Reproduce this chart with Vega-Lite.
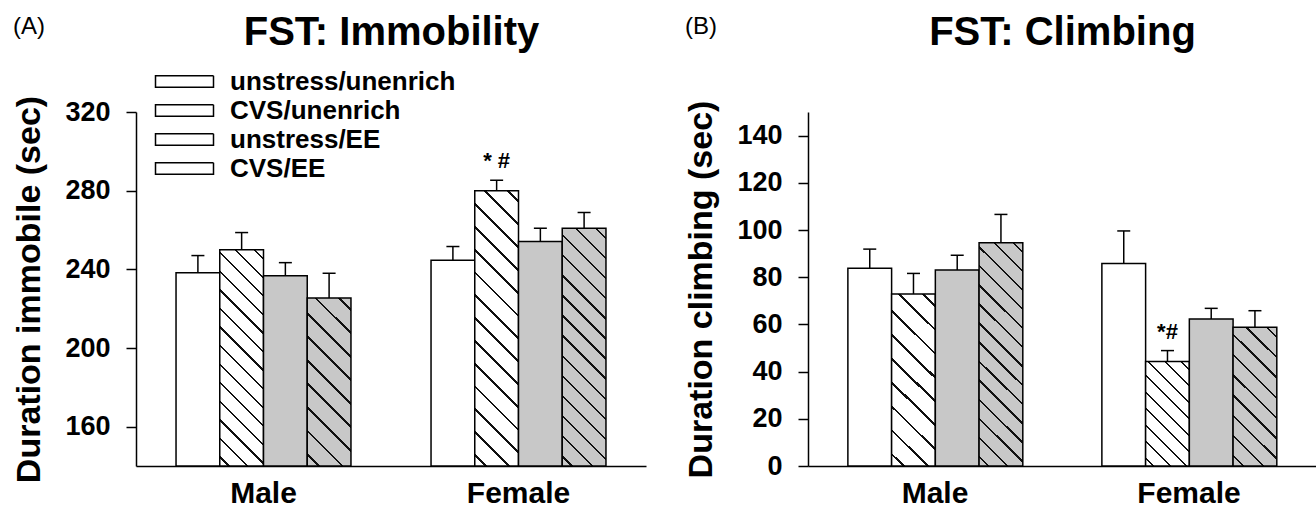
{
 "$schema": "https://vega.github.io/schema/vega-lite/v6.json",
 "padding": {"left": 12, "top": 12, "right": 0, "bottom": 0},
 "config": {"font": "Liberation Sans", "view": {"stroke": null}, "axis": {"domainColor": "#000", "tickColor": "#000", "labelColor": "#000", "titleColor": "#000", "grid": false}, "title": {"color": "#000"}},
 "datasets": {"fst": [
  {"panel":"A","sex":"Male","group":"unstress/unenrich","mean":238.3,"upper":247,"sig":""},
  {"panel":"A","sex":"Male","group":"CVS/unenrich","mean":249.9,"upper":258.7,"sig":""},
  {"panel":"A","sex":"Male","group":"unstress/EE","mean":236.7,"upper":243.4,"sig":""},
  {"panel":"A","sex":"Male","group":"CVS/EE","mean":225.4,"upper":238,"sig":""},
  {"panel":"A","sex":"Female","group":"unstress/unenrich","mean":244.6,"upper":251.6,"sig":""},
  {"panel":"A","sex":"Female","group":"CVS/unenrich","mean":280,"upper":285.3,"sig":"* #"},
  {"panel":"A","sex":"Female","group":"unstress/EE","mean":254.1,"upper":260.9,"sig":""},
  {"panel":"A","sex":"Female","group":"CVS/EE","mean":260.9,"upper":268.9,"sig":""},
  {"panel":"B","sex":"Male","group":"unstress/unenrich","mean":83.8,"upper":91.9,"sig":""},
  {"panel":"B","sex":"Male","group":"CVS/unenrich","mean":72.9,"upper":81.6,"sig":""},
  {"panel":"B","sex":"Male","group":"unstress/EE","mean":83.1,"upper":89.3,"sig":""},
  {"panel":"B","sex":"Male","group":"CVS/EE","mean":94.6,"upper":106.6,"sig":""},
  {"panel":"B","sex":"Female","group":"unstress/unenrich","mean":85.8,"upper":99.6,"sig":""},
  {"panel":"B","sex":"Female","group":"CVS/unenrich","mean":44.3,"upper":48.9,"sig":"*#"},
  {"panel":"B","sex":"Female","group":"unstress/EE","mean":62.3,"upper":66.8,"sig":""},
  {"panel":"B","sex":"Female","group":"CVS/EE","mean":58.8,"upper":65.8,"sig":""}
 ]},
 "spacing": 38,
 "resolve": {"scale": {"strokeDash": "independent"}},
 "hconcat": [
  {
   "width": 510, "height": 354,
   "title": {"text": "(A)", "anchor": "start", "frame": "bounds", "fontSize": 24, "fontWeight": "normal", "offset": -27},
   "data": {"name": "fst"},
   "transform": [{"filter": "datum.panel === 'A'"}],
   "resolve": {"axis": {"x": "independent"}},
   "layer": [
    {
     "mark": {"type": "bar", "stroke": "#000", "strokeWidth": 1.5, "opacity": 0},
     "encoding": {
      "x": {"field": "sex", "type": "nominal", "sort": ["Male", "Female"], "axis": null},
      "xOffset": {"field": "group", "type": "nominal", "sort": ["unstress/unenrich", "CVS/unenrich", "unstress/EE", "CVS/EE"]},
      "y": {"field": "mean", "type": "quantitative", "title": "Duration immobile (sec)"},
      "y2": {"datum": 140},
      "fill": {"field": "group", "type": "nominal", "scale": null},
      "strokeDash": {
       "field": "group", "type": "nominal",
       "scale": {"domain": ["unstress/unenrich", "CVS/unenrich", "unstress/EE", "CVS/EE"], "range": [[1, 0], [1, 0], [1, 0], [1, 0]]},
       "legend": {
        "orient": "none", "legendX": 33, "legendY": -46, "title": null, "direction": "vertical",
        "symbolType": "M-2,-0.4H2V0.4H-2Z", "symbolSize": 841, "symbolStrokeWidth": 1.5, "symbolOpacity": 1, "symbolFillColor": "#ffffff",
        "labelFontSize": 26, "labelFontWeight": "bold", "labelColor": "#000", "labelOffset": 30, "rowPadding": 0, "labelLimit": 400,
        "encode": {"symbols": {"update": {
         "fill": [
          {"test": "datum.value === 'CVS/unenrich'", "value": {"gradient": "linear", "x1": 0, "y1": 1, "x2": 1.154, "y2": 0.769, "stops": [{"offset":0,"color":"#fff"},{"offset":0.11,"color":"#fff"},{"offset":0.11,"color":"#111"},{"offset":0.14,"color":"#111"},{"offset":0.14,"color":"#fff"},{"offset":0.36,"color":"#fff"},{"offset":0.36,"color":"#111"},{"offset":0.39,"color":"#111"},{"offset":0.39,"color":"#fff"},{"offset":0.61,"color":"#fff"},{"offset":0.61,"color":"#111"},{"offset":0.64,"color":"#111"},{"offset":0.64,"color":"#fff"},{"offset":0.86,"color":"#fff"},{"offset":0.86,"color":"#111"},{"offset":0.89,"color":"#111"},{"offset":0.89,"color":"#fff"},{"offset":1,"color":"#fff"}]}},
          {"test": "datum.value === 'CVS/EE'", "value": {"gradient": "linear", "x1": 0, "y1": 1, "x2": 1.154, "y2": 0.769, "stops": [{"offset":0,"color":"#c8c8c8"},{"offset":0.11,"color":"#c8c8c8"},{"offset":0.11,"color":"#111"},{"offset":0.14,"color":"#111"},{"offset":0.14,"color":"#c8c8c8"},{"offset":0.36,"color":"#c8c8c8"},{"offset":0.36,"color":"#111"},{"offset":0.39,"color":"#111"},{"offset":0.39,"color":"#c8c8c8"},{"offset":0.61,"color":"#c8c8c8"},{"offset":0.61,"color":"#111"},{"offset":0.64,"color":"#111"},{"offset":0.64,"color":"#c8c8c8"},{"offset":0.86,"color":"#c8c8c8"},{"offset":0.86,"color":"#111"},{"offset":0.89,"color":"#111"},{"offset":0.89,"color":"#c8c8c8"},{"offset":1,"color":"#c8c8c8"}]}},
          {"test": "datum.value === 'unstress/EE'", "value": "#c8c8c8"},
          {"value": "#ffffff"}
         ],
         "stroke": {"value": "#000"},
         "strokeWidth": {"value": 1.5},
         "opacity": {"value": 1}
        }}}
       }
      }
     }
    },
    {
     "mark": {"type": "bar", "stroke": "#000", "strokeWidth": 1.5},
     "encoding": {
      "x": {"field": "sex", "type": "nominal", "sort": ["Male", "Female"], "scale": {"domain": ["Male", "Female"], "paddingInner": 0.314, "paddingOuter": 0.157}, "axis": {"orient": "bottom", "title": null, "ticks": false, "labelAngle": 0, "labelFontSize": 30, "labelFontWeight": "bold", "labelPadding": 12, "domainWidth": 1.5}},
      "xOffset": {"field": "group", "type": "nominal", "sort": ["unstress/unenrich", "CVS/unenrich", "unstress/EE", "CVS/EE"], "scale": {"domain": ["unstress/unenrich", "CVS/unenrich", "unstress/EE", "CVS/EE"], "paddingInner": 0, "paddingOuter": 0}},
      "y": {"field": "mean", "type": "quantitative", "title": "Duration immobile (sec)", "scale": {"domain": [140, 320], "zero": false, "nice": false}, "axis": {"values": [160, 200, 240, 280, 320], "titleFontSize": 34, "titleFontWeight": "bold", "titlePadding": 18, "labelFontSize": 27, "labelFontWeight": "bold", "labelPadding": 16, "tickSize": 10, "tickWidth": 1.5, "domainWidth": 1.5}},
      "y2": {"datum": 140},
      "fill": {
       "condition": [
        {"test": "datum.sex === 'Male' && datum.group === 'CVS/unenrich'", "value": {"gradient": "linear", "x1": 0, "y1": 1, "x2": 0.234, "y2": -0.155, "stops": [{"offset":0,"color":"#fff"},{"offset":0.031,"color":"#fff"},{"offset":0.031,"color":"#111"},{"offset":0.04,"color":"#111"},{"offset":0.04,"color":"#fff"},{"offset":0.103,"color":"#fff"},{"offset":0.103,"color":"#111"},{"offset":0.111,"color":"#111"},{"offset":0.111,"color":"#fff"},{"offset":0.174,"color":"#fff"},{"offset":0.174,"color":"#111"},{"offset":0.183,"color":"#111"},{"offset":0.183,"color":"#fff"},{"offset":0.246,"color":"#fff"},{"offset":0.246,"color":"#111"},{"offset":0.254,"color":"#111"},{"offset":0.254,"color":"#fff"},{"offset":0.317,"color":"#fff"},{"offset":0.317,"color":"#111"},{"offset":0.326,"color":"#111"},{"offset":0.326,"color":"#fff"},{"offset":0.389,"color":"#fff"},{"offset":0.389,"color":"#111"},{"offset":0.397,"color":"#111"},{"offset":0.397,"color":"#fff"},{"offset":0.46,"color":"#fff"},{"offset":0.46,"color":"#111"},{"offset":0.469,"color":"#111"},{"offset":0.469,"color":"#fff"},{"offset":0.531,"color":"#fff"},{"offset":0.531,"color":"#111"},{"offset":0.54,"color":"#111"},{"offset":0.54,"color":"#fff"},{"offset":0.603,"color":"#fff"},{"offset":0.603,"color":"#111"},{"offset":0.611,"color":"#111"},{"offset":0.611,"color":"#fff"},{"offset":0.674,"color":"#fff"},{"offset":0.674,"color":"#111"},{"offset":0.683,"color":"#111"},{"offset":0.683,"color":"#fff"},{"offset":0.746,"color":"#fff"},{"offset":0.746,"color":"#111"},{"offset":0.754,"color":"#111"},{"offset":0.754,"color":"#fff"},{"offset":0.817,"color":"#fff"},{"offset":0.817,"color":"#111"},{"offset":0.826,"color":"#111"},{"offset":0.826,"color":"#fff"},{"offset":0.889,"color":"#fff"},{"offset":0.889,"color":"#111"},{"offset":0.897,"color":"#111"},{"offset":0.897,"color":"#fff"},{"offset":0.96,"color":"#fff"},{"offset":0.96,"color":"#111"},{"offset":0.969,"color":"#111"},{"offset":0.969,"color":"#fff"},{"offset":1,"color":"#fff"}]}},
        {"test": "datum.sex === 'Female' && datum.group === 'CVS/unenrich'", "value": {"gradient": "linear", "x1": 0, "y1": 1, "x2": 0.18, "y2": -0.131, "stops": [{"offset":0,"color":"#fff"},{"offset":0.031,"color":"#fff"},{"offset":0.031,"color":"#111"},{"offset":0.04,"color":"#111"},{"offset":0.04,"color":"#fff"},{"offset":0.103,"color":"#fff"},{"offset":0.103,"color":"#111"},{"offset":0.111,"color":"#111"},{"offset":0.111,"color":"#fff"},{"offset":0.174,"color":"#fff"},{"offset":0.174,"color":"#111"},{"offset":0.183,"color":"#111"},{"offset":0.183,"color":"#fff"},{"offset":0.246,"color":"#fff"},{"offset":0.246,"color":"#111"},{"offset":0.254,"color":"#111"},{"offset":0.254,"color":"#fff"},{"offset":0.317,"color":"#fff"},{"offset":0.317,"color":"#111"},{"offset":0.326,"color":"#111"},{"offset":0.326,"color":"#fff"},{"offset":0.389,"color":"#fff"},{"offset":0.389,"color":"#111"},{"offset":0.397,"color":"#111"},{"offset":0.397,"color":"#fff"},{"offset":0.46,"color":"#fff"},{"offset":0.46,"color":"#111"},{"offset":0.469,"color":"#111"},{"offset":0.469,"color":"#fff"},{"offset":0.531,"color":"#fff"},{"offset":0.531,"color":"#111"},{"offset":0.54,"color":"#111"},{"offset":0.54,"color":"#fff"},{"offset":0.603,"color":"#fff"},{"offset":0.603,"color":"#111"},{"offset":0.611,"color":"#111"},{"offset":0.611,"color":"#fff"},{"offset":0.674,"color":"#fff"},{"offset":0.674,"color":"#111"},{"offset":0.683,"color":"#111"},{"offset":0.683,"color":"#fff"},{"offset":0.746,"color":"#fff"},{"offset":0.746,"color":"#111"},{"offset":0.754,"color":"#111"},{"offset":0.754,"color":"#fff"},{"offset":0.817,"color":"#fff"},{"offset":0.817,"color":"#111"},{"offset":0.826,"color":"#111"},{"offset":0.826,"color":"#fff"},{"offset":0.889,"color":"#fff"},{"offset":0.889,"color":"#111"},{"offset":0.897,"color":"#111"},{"offset":0.897,"color":"#fff"},{"offset":0.96,"color":"#fff"},{"offset":0.96,"color":"#111"},{"offset":0.969,"color":"#111"},{"offset":0.969,"color":"#fff"},{"offset":1,"color":"#fff"}]}},
        {"test": "datum.sex === 'Male' && datum.group === 'CVS/EE'", "value": {"gradient": "linear", "x1": 0, "y1": 1, "x2": 0.307, "y2": -0.18, "stops": [{"offset":0,"color":"#c8c8c8"},{"offset":0.049,"color":"#c8c8c8"},{"offset":0.049,"color":"#111"},{"offset":0.062,"color":"#111"},{"offset":0.062,"color":"#c8c8c8"},{"offset":0.16,"color":"#c8c8c8"},{"offset":0.16,"color":"#111"},{"offset":0.173,"color":"#111"},{"offset":0.173,"color":"#c8c8c8"},{"offset":0.271,"color":"#c8c8c8"},{"offset":0.271,"color":"#111"},{"offset":0.284,"color":"#111"},{"offset":0.284,"color":"#c8c8c8"},{"offset":0.382,"color":"#c8c8c8"},{"offset":0.382,"color":"#111"},{"offset":0.396,"color":"#111"},{"offset":0.396,"color":"#c8c8c8"},{"offset":0.493,"color":"#c8c8c8"},{"offset":0.493,"color":"#111"},{"offset":0.507,"color":"#111"},{"offset":0.507,"color":"#c8c8c8"},{"offset":0.604,"color":"#c8c8c8"},{"offset":0.604,"color":"#111"},{"offset":0.618,"color":"#111"},{"offset":0.618,"color":"#c8c8c8"},{"offset":0.716,"color":"#c8c8c8"},{"offset":0.716,"color":"#111"},{"offset":0.729,"color":"#111"},{"offset":0.729,"color":"#c8c8c8"},{"offset":0.827,"color":"#c8c8c8"},{"offset":0.827,"color":"#111"},{"offset":0.84,"color":"#111"},{"offset":0.84,"color":"#c8c8c8"},{"offset":0.938,"color":"#c8c8c8"},{"offset":0.938,"color":"#111"},{"offset":0.951,"color":"#111"},{"offset":0.951,"color":"#c8c8c8"},{"offset":1,"color":"#c8c8c8"}]}},
        {"test": "datum.sex === 'Female' && datum.group === 'CVS/EE'", "value": {"gradient": "linear", "x1": 0, "y1": 1, "x2": 0.211, "y2": -0.145, "stops": [{"offset":0,"color":"#c8c8c8"},{"offset":0.031,"color":"#c8c8c8"},{"offset":0.031,"color":"#111"},{"offset":0.04,"color":"#111"},{"offset":0.04,"color":"#c8c8c8"},{"offset":0.103,"color":"#c8c8c8"},{"offset":0.103,"color":"#111"},{"offset":0.111,"color":"#111"},{"offset":0.111,"color":"#c8c8c8"},{"offset":0.174,"color":"#c8c8c8"},{"offset":0.174,"color":"#111"},{"offset":0.183,"color":"#111"},{"offset":0.183,"color":"#c8c8c8"},{"offset":0.246,"color":"#c8c8c8"},{"offset":0.246,"color":"#111"},{"offset":0.254,"color":"#111"},{"offset":0.254,"color":"#c8c8c8"},{"offset":0.317,"color":"#c8c8c8"},{"offset":0.317,"color":"#111"},{"offset":0.326,"color":"#111"},{"offset":0.326,"color":"#c8c8c8"},{"offset":0.389,"color":"#c8c8c8"},{"offset":0.389,"color":"#111"},{"offset":0.397,"color":"#111"},{"offset":0.397,"color":"#c8c8c8"},{"offset":0.46,"color":"#c8c8c8"},{"offset":0.46,"color":"#111"},{"offset":0.469,"color":"#111"},{"offset":0.469,"color":"#c8c8c8"},{"offset":0.531,"color":"#c8c8c8"},{"offset":0.531,"color":"#111"},{"offset":0.54,"color":"#111"},{"offset":0.54,"color":"#c8c8c8"},{"offset":0.603,"color":"#c8c8c8"},{"offset":0.603,"color":"#111"},{"offset":0.611,"color":"#111"},{"offset":0.611,"color":"#c8c8c8"},{"offset":0.674,"color":"#c8c8c8"},{"offset":0.674,"color":"#111"},{"offset":0.683,"color":"#111"},{"offset":0.683,"color":"#c8c8c8"},{"offset":0.746,"color":"#c8c8c8"},{"offset":0.746,"color":"#111"},{"offset":0.754,"color":"#111"},{"offset":0.754,"color":"#c8c8c8"},{"offset":0.817,"color":"#c8c8c8"},{"offset":0.817,"color":"#111"},{"offset":0.826,"color":"#111"},{"offset":0.826,"color":"#c8c8c8"},{"offset":0.889,"color":"#c8c8c8"},{"offset":0.889,"color":"#111"},{"offset":0.897,"color":"#111"},{"offset":0.897,"color":"#c8c8c8"},{"offset":0.96,"color":"#c8c8c8"},{"offset":0.96,"color":"#111"},{"offset":0.969,"color":"#111"},{"offset":0.969,"color":"#c8c8c8"},{"offset":1,"color":"#c8c8c8"}]}},
        {"test": "datum.group === 'unstress/EE'", "value": "#c8c8c8"}
       ],
       "value": "#ffffff"
      }
     }
    },
    {
     "mark": {"type": "rule", "stroke": "#000", "strokeWidth": 1.5},
     "encoding": {
      "x": {"field": "sex", "type": "nominal", "sort": ["Male", "Female"], "axis": {"orient": "top", "domain": false, "ticks": false, "labels": false, "title": "FST: Immobility", "titleFontSize": 40, "titleFontWeight": "bold", "titlePadding": 60}},
      "xOffset": {"field": "group", "type": "nominal", "sort": ["unstress/unenrich", "CVS/unenrich", "unstress/EE", "CVS/EE"]},
      "y": {"field": "mean", "type": "quantitative", "title": "Duration immobile (sec)"},
      "y2": {"field": "upper"}
     }
    },
    {
     "mark": {"type": "tick", "size": 13, "thickness": 1.5, "color": "#000", "opacity": 1},
     "encoding": {
      "x": {"field": "sex", "type": "nominal", "sort": ["Male", "Female"], "axis": null},
      "xOffset": {"field": "group", "type": "nominal", "sort": ["unstress/unenrich", "CVS/unenrich", "unstress/EE", "CVS/EE"]},
      "y": {"field": "upper", "type": "quantitative", "title": "Duration immobile (sec)"}
     }
    },
    {
     "transform": [{"filter": "datum.sig !== ''"}],
     "mark": {"type": "text", "fontSize": 22, "fontWeight": "bold", "baseline": "alphabetic", "dy": -12, "color": "#000"},
     "encoding": {
      "x": {"field": "sex", "type": "nominal", "sort": ["Male", "Female"], "axis": null},
      "xOffset": {"field": "group", "type": "nominal", "sort": ["unstress/unenrich", "CVS/unenrich", "unstress/EE", "CVS/EE"]},
      "y": {"field": "upper", "type": "quantitative", "title": "Duration immobile (sec)"},
      "text": {"field": "sig"}
     }
    }
   ]
  },
  {
   "width": 508, "height": 354,
   "title": {"text": "(B)", "anchor": "start", "frame": "bounds", "fontSize": 24, "fontWeight": "normal", "offset": -27},
   "data": {"name": "fst"},
   "transform": [{"filter": "datum.panel === 'B'"}],
   "resolve": {"axis": {"x": "independent"}},
   "layer": [
    {
     "mark": {"type": "bar", "stroke": "#000", "strokeWidth": 1.5},
     "encoding": {
      "x": {"field": "sex", "type": "nominal", "sort": ["Male", "Female"], "scale": {"domain": ["Male", "Female"], "paddingInner": 0.314, "paddingOuter": 0.157}, "axis": {"orient": "bottom", "title": null, "ticks": false, "labelAngle": 0, "labelFontSize": 30, "labelFontWeight": "bold", "labelPadding": 12, "domainWidth": 1.5}},
      "xOffset": {"field": "group", "type": "nominal", "sort": ["unstress/unenrich", "CVS/unenrich", "unstress/EE", "CVS/EE"], "scale": {"domain": ["unstress/unenrich", "CVS/unenrich", "unstress/EE", "CVS/EE"], "paddingInner": 0, "paddingOuter": 0}},
      "y": {"field": "mean", "type": "quantitative", "title": "Duration climbing (sec)", "scale": {"domain": [0, 150], "nice": false}, "axis": {"values": [0, 20, 40, 60, 80, 100, 120, 140], "titleFontSize": 34, "titleFontWeight": "bold", "titlePadding": 18, "labelFontSize": 27, "labelFontWeight": "bold", "labelPadding": 16, "tickSize": 10, "tickWidth": 1.5, "domainWidth": 1.5}},
      "fill": {
       "condition": [
        {"test": "datum.sex === 'Male' && datum.group === 'CVS/unenrich'", "value": {"gradient": "linear", "x1": 0, "y1": 1, "x2": 0.297, "y2": -0.177, "stops": [{"offset":0,"color":"#fff"},{"offset":0.049,"color":"#fff"},{"offset":0.049,"color":"#111"},{"offset":0.062,"color":"#111"},{"offset":0.062,"color":"#fff"},{"offset":0.16,"color":"#fff"},{"offset":0.16,"color":"#111"},{"offset":0.173,"color":"#111"},{"offset":0.173,"color":"#fff"},{"offset":0.271,"color":"#fff"},{"offset":0.271,"color":"#111"},{"offset":0.284,"color":"#111"},{"offset":0.284,"color":"#fff"},{"offset":0.382,"color":"#fff"},{"offset":0.382,"color":"#111"},{"offset":0.396,"color":"#111"},{"offset":0.396,"color":"#fff"},{"offset":0.493,"color":"#fff"},{"offset":0.493,"color":"#111"},{"offset":0.507,"color":"#111"},{"offset":0.507,"color":"#fff"},{"offset":0.604,"color":"#fff"},{"offset":0.604,"color":"#111"},{"offset":0.618,"color":"#111"},{"offset":0.618,"color":"#fff"},{"offset":0.716,"color":"#fff"},{"offset":0.716,"color":"#111"},{"offset":0.729,"color":"#111"},{"offset":0.729,"color":"#fff"},{"offset":0.827,"color":"#fff"},{"offset":0.827,"color":"#111"},{"offset":0.84,"color":"#111"},{"offset":0.84,"color":"#fff"},{"offset":0.938,"color":"#fff"},{"offset":0.938,"color":"#111"},{"offset":0.951,"color":"#111"},{"offset":0.951,"color":"#fff"},{"offset":1,"color":"#fff"}]}},
        {"test": "datum.sex === 'Female' && datum.group === 'CVS/unenrich'", "value": {"gradient": "linear", "x1": 0, "y1": 1, "x2": 0.502, "y2": -0.207, "stops": [{"offset":0,"color":"#fff"},{"offset":0.049,"color":"#fff"},{"offset":0.049,"color":"#111"},{"offset":0.062,"color":"#111"},{"offset":0.062,"color":"#fff"},{"offset":0.16,"color":"#fff"},{"offset":0.16,"color":"#111"},{"offset":0.173,"color":"#111"},{"offset":0.173,"color":"#fff"},{"offset":0.271,"color":"#fff"},{"offset":0.271,"color":"#111"},{"offset":0.284,"color":"#111"},{"offset":0.284,"color":"#fff"},{"offset":0.382,"color":"#fff"},{"offset":0.382,"color":"#111"},{"offset":0.396,"color":"#111"},{"offset":0.396,"color":"#fff"},{"offset":0.493,"color":"#fff"},{"offset":0.493,"color":"#111"},{"offset":0.507,"color":"#111"},{"offset":0.507,"color":"#fff"},{"offset":0.604,"color":"#fff"},{"offset":0.604,"color":"#111"},{"offset":0.618,"color":"#111"},{"offset":0.618,"color":"#fff"},{"offset":0.716,"color":"#fff"},{"offset":0.716,"color":"#111"},{"offset":0.729,"color":"#111"},{"offset":0.729,"color":"#fff"},{"offset":0.827,"color":"#fff"},{"offset":0.827,"color":"#111"},{"offset":0.84,"color":"#111"},{"offset":0.84,"color":"#fff"},{"offset":0.938,"color":"#fff"},{"offset":0.938,"color":"#111"},{"offset":0.951,"color":"#111"},{"offset":0.951,"color":"#fff"},{"offset":1,"color":"#fff"}]}},
        {"test": "datum.sex === 'Male' && datum.group === 'CVS/EE'", "value": {"gradient": "linear", "x1": 0, "y1": 1, "x2": 0.224, "y2": -0.151, "stops": [{"offset":0,"color":"#c8c8c8"},{"offset":0.031,"color":"#c8c8c8"},{"offset":0.031,"color":"#111"},{"offset":0.04,"color":"#111"},{"offset":0.04,"color":"#c8c8c8"},{"offset":0.103,"color":"#c8c8c8"},{"offset":0.103,"color":"#111"},{"offset":0.111,"color":"#111"},{"offset":0.111,"color":"#c8c8c8"},{"offset":0.174,"color":"#c8c8c8"},{"offset":0.174,"color":"#111"},{"offset":0.183,"color":"#111"},{"offset":0.183,"color":"#c8c8c8"},{"offset":0.246,"color":"#c8c8c8"},{"offset":0.246,"color":"#111"},{"offset":0.254,"color":"#111"},{"offset":0.254,"color":"#c8c8c8"},{"offset":0.317,"color":"#c8c8c8"},{"offset":0.317,"color":"#111"},{"offset":0.326,"color":"#111"},{"offset":0.326,"color":"#c8c8c8"},{"offset":0.389,"color":"#c8c8c8"},{"offset":0.389,"color":"#111"},{"offset":0.397,"color":"#111"},{"offset":0.397,"color":"#c8c8c8"},{"offset":0.46,"color":"#c8c8c8"},{"offset":0.46,"color":"#111"},{"offset":0.469,"color":"#111"},{"offset":0.469,"color":"#c8c8c8"},{"offset":0.531,"color":"#c8c8c8"},{"offset":0.531,"color":"#111"},{"offset":0.54,"color":"#111"},{"offset":0.54,"color":"#c8c8c8"},{"offset":0.603,"color":"#c8c8c8"},{"offset":0.603,"color":"#111"},{"offset":0.611,"color":"#111"},{"offset":0.611,"color":"#c8c8c8"},{"offset":0.674,"color":"#c8c8c8"},{"offset":0.674,"color":"#111"},{"offset":0.683,"color":"#111"},{"offset":0.683,"color":"#c8c8c8"},{"offset":0.746,"color":"#c8c8c8"},{"offset":0.746,"color":"#111"},{"offset":0.754,"color":"#111"},{"offset":0.754,"color":"#c8c8c8"},{"offset":0.817,"color":"#c8c8c8"},{"offset":0.817,"color":"#111"},{"offset":0.826,"color":"#111"},{"offset":0.826,"color":"#c8c8c8"},{"offset":0.889,"color":"#c8c8c8"},{"offset":0.889,"color":"#111"},{"offset":0.897,"color":"#111"},{"offset":0.897,"color":"#c8c8c8"},{"offset":0.96,"color":"#c8c8c8"},{"offset":0.96,"color":"#111"},{"offset":0.969,"color":"#111"},{"offset":0.969,"color":"#c8c8c8"},{"offset":1,"color":"#c8c8c8"}]}},
        {"test": "datum.sex === 'Female' && datum.group === 'CVS/EE'", "value": {"gradient": "linear", "x1": 0, "y1": 1, "x2": 0.375, "y2": -0.196, "stops": [{"offset":0,"color":"#c8c8c8"},{"offset":0.049,"color":"#c8c8c8"},{"offset":0.049,"color":"#111"},{"offset":0.062,"color":"#111"},{"offset":0.062,"color":"#c8c8c8"},{"offset":0.16,"color":"#c8c8c8"},{"offset":0.16,"color":"#111"},{"offset":0.173,"color":"#111"},{"offset":0.173,"color":"#c8c8c8"},{"offset":0.271,"color":"#c8c8c8"},{"offset":0.271,"color":"#111"},{"offset":0.284,"color":"#111"},{"offset":0.284,"color":"#c8c8c8"},{"offset":0.382,"color":"#c8c8c8"},{"offset":0.382,"color":"#111"},{"offset":0.396,"color":"#111"},{"offset":0.396,"color":"#c8c8c8"},{"offset":0.493,"color":"#c8c8c8"},{"offset":0.493,"color":"#111"},{"offset":0.507,"color":"#111"},{"offset":0.507,"color":"#c8c8c8"},{"offset":0.604,"color":"#c8c8c8"},{"offset":0.604,"color":"#111"},{"offset":0.618,"color":"#111"},{"offset":0.618,"color":"#c8c8c8"},{"offset":0.716,"color":"#c8c8c8"},{"offset":0.716,"color":"#111"},{"offset":0.729,"color":"#111"},{"offset":0.729,"color":"#c8c8c8"},{"offset":0.827,"color":"#c8c8c8"},{"offset":0.827,"color":"#111"},{"offset":0.84,"color":"#111"},{"offset":0.84,"color":"#c8c8c8"},{"offset":0.938,"color":"#c8c8c8"},{"offset":0.938,"color":"#111"},{"offset":0.951,"color":"#111"},{"offset":0.951,"color":"#c8c8c8"},{"offset":1,"color":"#c8c8c8"}]}},
        {"test": "datum.group === 'unstress/EE'", "value": "#c8c8c8"}
       ],
       "value": "#ffffff"
      }
     }
    },
    {
     "mark": {"type": "rule", "stroke": "#000", "strokeWidth": 1.5},
     "encoding": {
      "x": {"field": "sex", "type": "nominal", "sort": ["Male", "Female"], "axis": {"orient": "top", "domain": false, "ticks": false, "labels": false, "title": "FST: Climbing", "titleFontSize": 40, "titleFontWeight": "bold", "titlePadding": 60}},
      "xOffset": {"field": "group", "type": "nominal", "sort": ["unstress/unenrich", "CVS/unenrich", "unstress/EE", "CVS/EE"]},
      "y": {"field": "mean", "type": "quantitative", "title": "Duration climbing (sec)"},
      "y2": {"field": "upper"}
     }
    },
    {
     "mark": {"type": "tick", "size": 13, "thickness": 1.5, "color": "#000", "opacity": 1},
     "encoding": {
      "x": {"field": "sex", "type": "nominal", "sort": ["Male", "Female"], "axis": null},
      "xOffset": {"field": "group", "type": "nominal", "sort": ["unstress/unenrich", "CVS/unenrich", "unstress/EE", "CVS/EE"]},
      "y": {"field": "upper", "type": "quantitative", "title": "Duration climbing (sec)"}
     }
    },
    {
     "transform": [{"filter": "datum.sig !== ''"}],
     "mark": {"type": "text", "fontSize": 22, "fontWeight": "bold", "baseline": "alphabetic", "dy": -12, "color": "#000"},
     "encoding": {
      "x": {"field": "sex", "type": "nominal", "sort": ["Male", "Female"], "axis": null},
      "xOffset": {"field": "group", "type": "nominal", "sort": ["unstress/unenrich", "CVS/unenrich", "unstress/EE", "CVS/EE"]},
      "y": {"field": "upper", "type": "quantitative", "title": "Duration climbing (sec)"},
      "text": {"field": "sig"}
     }
    }
   ]
  }
 ]
}
